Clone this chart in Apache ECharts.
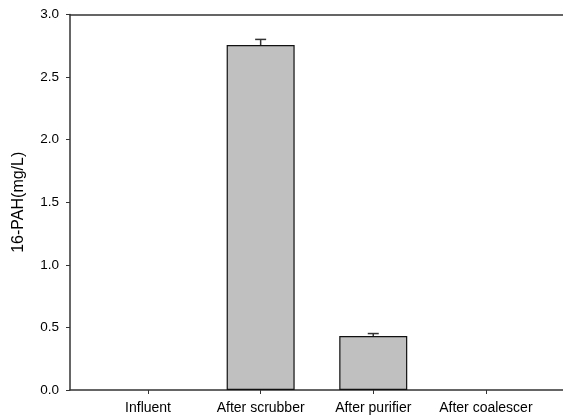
<!DOCTYPE html>
<html><head><meta charset="utf-8">
<script src="https://cdn.jsdelivr.net/npm/echarts@6/dist/echarts.min.js"></script>
<style>html,body{margin:0;padding:0;background:#fff}#c{width:563px;height:420px}</style>
</head><body><div id="c"></div>
<script>
const categories = ['Influent', 'After scrubber', 'After purifier', 'After coalescer'];
const values = [0, 2.756, 0.431, 0];
const errors = [0, 0.045, 0.02, 0];
const yTicks = [0, 0.5, 1.0, 1.5, 2.0, 2.5, 3.0];

const positions = categories.map((c, i) => i + 1);
const chart = echarts.init(document.getElementById('c'));
const font = '"Liberation Sans", Arial, sans-serif';
chart.setOption({
  animation: false,
  grid: { left: 70, right: 0, top: 14.5, bottom: 30 },
  xAxis: [{
    type: 'value', min: 0.307, max: 4.685,
    splitLine: { show: false },
    axisLine: { lineStyle: { color: '#333', width: 1.5 } },
    axisTick: { show: true, length: 4, customValues: positions, lineStyle: { color: '#333', width: 1 } },
    axisLabel: { customValues: positions, margin: 11, color: '#000', fontSize: 14, fontFamily: font,
      formatter: v => categories[Math.round(v) - 1] || '' }
  }, {
    type: 'value', position: 'top', min: 0.307, max: 4.685,
    splitLine: { show: false },
    axisLine: { show: true, lineStyle: { color: '#333', width: 1.5 } },
    axisTick: { show: false }, axisLabel: { show: false }
  }],
  yAxis: {
    type: 'value', min: yTicks[0], max: yTicks[yTicks.length - 1], interval: 0.5,
    name: '16-PAH(mg/L)', nameLocation: 'middle', nameGap: 43, nameRotate: 90,
    nameTextStyle: { fontSize: 16, fontFamily: font, color: '#000' },
    splitLine: { show: false },
    axisLine: { show: true, lineStyle: { color: '#333', width: 1.5 } },
    axisTick: { show: true, length: 4, lineStyle: { color: '#333', width: 1 } },
    axisLabel: { color: '#000', fontSize: 13.5, fontFamily: font, margin: 11,
      formatter: v => v.toFixed(1) }
  },
  series: [{
    type: 'bar', barWidth: 68,
    data: positions.map((p, i) => ({
      value: [p, values[i]],
      itemStyle: values[i] === 0 ? { borderWidth: 0, opacity: 0 } : undefined
    })),
    itemStyle: { color: '#c0c0c0', borderColor: '#111', borderWidth: 1.2 },
    z: 2
  }, {
    type: 'custom',
    data: positions.map((p, i) => [p, values[i], values[i] + errors[i]]),
    renderItem: function (params, api) {
      if (api.value(2) <= api.value(1)) return null;
      const base = api.coord([api.value(0), api.value(1)]);
      const top = api.coord([api.value(0), api.value(2)]);
      const hw = 5.5;
      return { type: 'group', children: [
        { type: 'line', shape: { x1: base[0], y1: base[1], x2: top[0], y2: top[1] }, style: { stroke: '#333', lineWidth: 1.5 } },
        { type: 'line', shape: { x1: top[0] - hw, y1: top[1], x2: top[0] + hw, y2: top[1] }, style: { stroke: '#333', lineWidth: 1.5 } }
      ]};
    },
    z: 3
  }]
});
</script></body></html>
